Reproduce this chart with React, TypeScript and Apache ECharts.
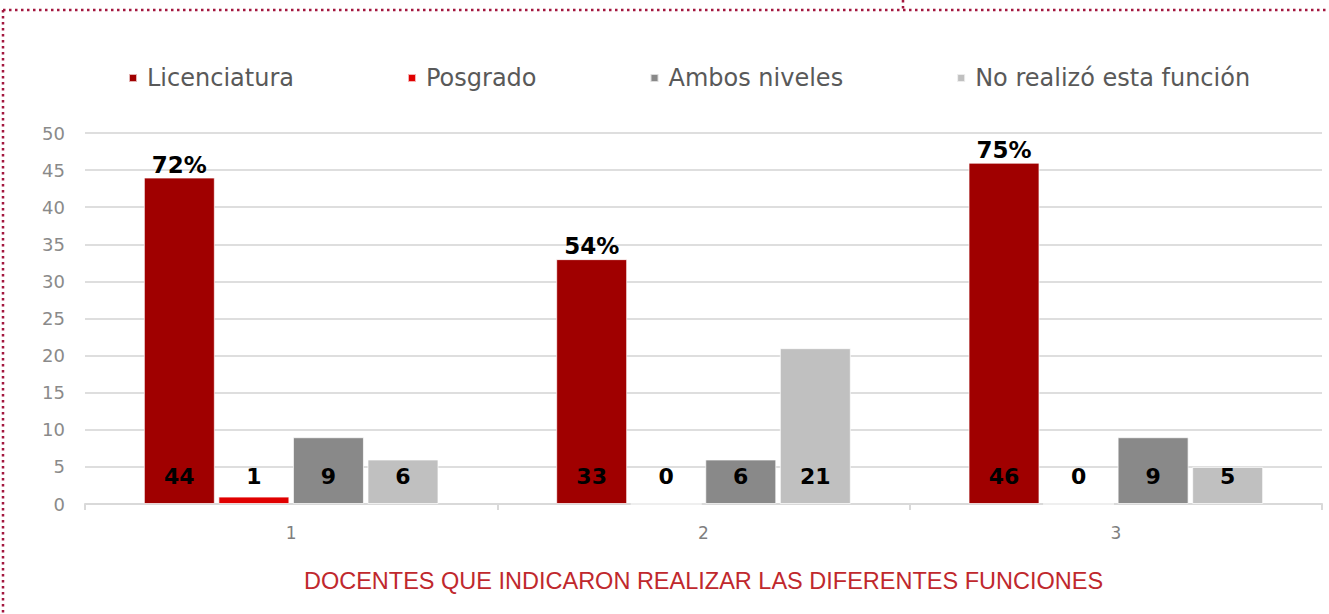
import React, { useEffect, useRef } from "react";
import * as echarts from "echarts";

const categories = ["1", "2", "3"];
const seriesNames = ["Licenciatura", "Posgrado", "Ambos niveles", "No realizó esta función"];
const licenciatura = [44, 33, 46];
const posgrado = [1, 0, 0];
const ambos = [9, 6, 9];
const noRealizo = [6, 21, 5];
const percentLabels = ["72%", "54%", "75%"];
const seriesColors = ["#a00000", "#e00000", "#898989", "#c0c0c0"];
const axisTitle = "DOCENTES QUE INDICARON REALIZAR LAS DIFERENTES FUNCIONES";

export default function App() {
  const ref = useRef<HTMLDivElement>(null);
  useEffect(() => {
    if (!ref.current) return;
    const chart = echarts.init(ref.current, null, { renderer: "svg" });
    const valueLabel = {
      show: true,
      position: "insideBottom",
      distance: 17,
      fontSize: 22,
      fontWeight: "bold",
      color: "#000",
      fontFamily: "DejaVu Sans",
    };
    const allData = [licenciatura, posgrado, ambos, noRealizo];
    const series: any[] = allData.map((d, i) => ({
      type: "bar",
      name: seriesNames[i],
      data: d,
      barWidth: 71,
      barGap: "5%",
      itemStyle: { color: seriesColors[i], borderColor: "rgba(255,255,255,0.7)", borderWidth: 1 },
      label: valueLabel,
    }));
    series[0].markPoint = {
      symbol: "rect",
      symbolSize: 1,
      itemStyle: { color: "rgba(0,0,0,0)" },
      label: {
        show: true,
        position: "top",
        distance: 1,
        formatter: (p: any) => p.name,
        fontSize: 23,
        fontWeight: "bold",
        color: "#000",
        fontFamily: "DejaVu Sans",
      },
      data: percentLabels.map((p, i) => ({ name: p, coord: [categories[i], licenciatura[i]] })),
    };
    const dot = { stroke: "#a3173f", lineWidth: 2.5, lineDash: [2.5, 3.5] };
    chart.setOption({
      animation: false,
      backgroundColor: "#fff",
      graphic: [
        { type: "line", shape: { x1: 3, y1: 10, x2: 1329, y2: 10 }, style: dot },
        { type: "line", shape: { x1: 3, y1: 10, x2: 3, y2: 614 }, style: dot },
        { type: "line", shape: { x1: 903, y1: 0, x2: 903, y2: 10 }, style: dot },
      ],
      legend: {
        data: seriesNames,
        left: 123,
        top: 61,
        icon: "rect",
        itemWidth: 8,
        itemHeight: 8,
        itemGap: 113,
        textStyle: { fontSize: 24, color: "#595959", fontFamily: "DejaVu Sans", padding: [0, 0, 0, 5] },
      },
      grid: { left: 85, right: 7, top: 133, bottom: 110 },
      xAxis: {
        type: "category",
        data: categories,
        name: axisTitle,
        nameLocation: "middle",
        nameGap: 65,
        nameTextStyle: { color: "#c0282d", fontSize: 23.5, fontFamily: "Liberation Sans" },
        axisLine: { lineStyle: { color: "#d9d9d9", width: 2 } },
        axisTick: { show: true, length: 6, lineStyle: { color: "#d9d9d9", width: 2 } },
        axisLabel: { color: "#7f7f7f", fontSize: 17, margin: 20, fontFamily: "DejaVu Sans" },
      },
      yAxis: {
        type: "value",
        min: 0,
        max: 50,
        interval: 5,
        axisLine: { show: false },
        axisTick: { show: false },
        axisLabel: { color: "#8a8a8a", fontSize: 18, margin: 20, fontFamily: "DejaVu Sans" },
        splitLine: { lineStyle: { color: "#dedede", width: 2 } },
      },
      series,
    });
    return () => chart.dispose();
  }, []);
  return (
    <div
      ref={ref}
      style={{ position: "absolute", left: 0, top: 0, width: 1329, height: 614, background: "#fff" }}
    />
  );
}
